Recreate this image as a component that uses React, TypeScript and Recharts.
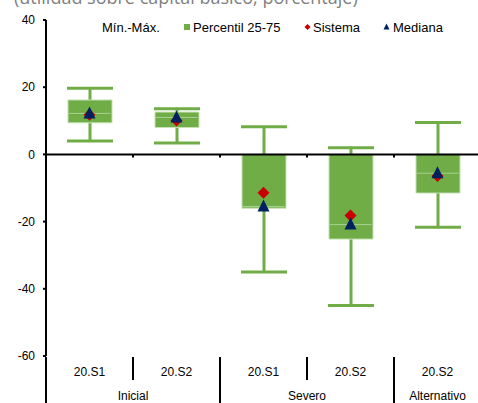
import React from "react";
import { Bar, ComposedChart, Line, ReferenceLine, XAxis, YAxis } from "recharts";

// Categorías del eje X y escenarios que las agrupan
const categories = ["20.S1", "20.S2", "20.S1", "20.S2", "20.S2"];
const scenarios = ["Inicial", "Inicial", "Severo", "Severo", "Alternativo"];

// Valores (porcentaje)
const minValues = [3.7, 3.1, -35.3, -45.3, -22.0];
const maxValues = [20.0, 13.9, 8.5, 2.3, 9.8];
const p25Values = [9.4, 8.0, -16.0, -25.2, -11.5];
const p75Values = [16.2, 12.6, 0, 0, 0];
const medianValues = [12.2, 11.0, -15.5, -20.9, -5.6];
const systemValues = [11.8, 10.1, -11.4, -18.2, -6.4];

const yTicks = [-60, -40, -20, 0, 20, 40];
const legendLabels = ["Mín.-Máx.", "Percentil 25-75", "Sistema", "Mediana"];
const title = "(utilidad sobre capital básico, porcentaje)";

const GREEN = "#70AD47";
const RED = "#C80000";
const NAVY = "#002060";
const FONT = "'Liberation Sans', Arial, sans-serif";

const data = categories.map((c, i) => ({
  id: i,
  label: c,
  scenario: scenarios[i],
  range: [minValues[i], maxValues[i]],
  box: [p25Values[i], p75Values[i]],
  mediana: medianValues[i],
  sistema: systemValues[i],
}));

const Whisker = (props: any) => {
  const { x, y, width, height } = props;
  const cx = x + width / 2;
  return (
    <g stroke={GREEN} strokeWidth={3}>
      <line x1={cx} x2={cx} y1={y} y2={y + height} />
      <line x1={x} x2={x + width} y1={y + 1} y2={y + 1} />
      <line x1={x} x2={x + width} y1={y + height - 1} y2={y + height - 1} />
    </g>
  );
};

const MedianLine = (props: any) => {
  const { cx, cy, index } = props;
  if (cx == null || cy == null) return <g key={index} />;
  return <line key={index} x1={cx - 21} x2={cx + 21} y1={cy} y2={cy} stroke="#A9D18E" strokeWidth={1} />;
};

const Diamond = (props: any) => {
  const { cx, cy, index } = props;
  if (cx == null || cy == null) return <g key={index} />;
  const r = 6;
  return (
    <path key={index} d={`M${cx},${cy - r}L${cx + r},${cy}L${cx},${cy + r}L${cx - r},${cy}Z`} fill={RED} />
  );
};

const Triangle = (props: any) => {
  const { cx, cy, index } = props;
  if (cx == null || cy == null) return <g key={index} />;
  return (
    <path key={index} d={`M${cx},${cy - 7}L${cx + 6},${cy + 5}L${cx - 6},${cy + 5}Z`} fill={NAVY} />
  );
};

const CategoryTick = (props: any) => {
  const { x, y, payload } = props;
  const i = payload.index;
  const off = payload.offset ?? 43.5;
  const bx = x - off;
  const groupStart = i === 0 || scenarios[i] !== scenarios[i - 1];
  let n = 0;
  if (groupStart) {
    while (i + n < scenarios.length && scenarios[i + n] === scenarios[i]) n++;
  }
  return (
    <g>
      <line x1={bx} x2={bx} y1={y + 1} y2={groupStart ? y + 50 : y + 24} stroke="#000" strokeWidth={2} />
      <text x={x} y={y + 20} textAnchor="middle" fontSize={12} fontFamily={FONT} fill="#000">
        {categories[i]}
      </text>
      {groupStart && (
        <text x={bx + n * off} y={y + 44} textAnchor="middle" fontSize={12} fontFamily={FONT} fill="#000">
          {scenarios[i]}
        </text>
      )}
    </g>
  );
};

const ZeroLine = (props: any) => {
  const { x1, x2, y1 } = props;
  const step = (x2 - x1) / categories.length;
  return (
    <g stroke="#000" strokeWidth={2}>
      <line x1={x1} x2={x2} y1={y1} y2={y1} />
      {categories.slice(1).map((_, k) => (
        <line key={k} x1={x1 + step * (k + 1)} x2={x1 + step * (k + 1)} y1={y1} y2={y1 + 3} />
      ))}
    </g>
  );
};

export default function App() {
  return (
    <div style={{ position: "absolute", left: 0, top: 0, width: 478, height: 403, overflow: "hidden", background: "#fff" }}>
      <ComposedChart width={482} height={403} data={data} margin={{ top: 20, right: 1, bottom: 0, left: 0 }}>
        <XAxis
          xAxisId="box"
          dataKey="id"
          type="category"
          height={47}
          axisLine={false}
          tickLine={false}
          tickSize={0}
          tickMargin={0}
          interval={0}
          tick={<CategoryTick />}
        />
        <XAxis xAxisId="whisk" dataKey="id" type="category" hide />
        <YAxis
          width={46}
          domain={[-60, 40]}
          ticks={yTicks}
          interval={0}
          axisLine={{ stroke: "#000", strokeWidth: 2 }}
          tickLine={{ stroke: "#000", strokeWidth: 2 }}
          tickSize={3}
          tickMargin={8}
          tick={{ fontSize: 12, fontFamily: FONT, fill: "#000" }}
        />
        <Bar xAxisId="whisk" dataKey="range" barSize={46} shape={<Whisker />} isAnimationActive={false} />
        <Bar xAxisId="box" dataKey="box" barSize={44} fill={GREEN} stroke="#C5E0B4" strokeWidth={1} isAnimationActive={false} />
        <ReferenceLine xAxisId="box" y={0} shape={<ZeroLine />} />
        <Line xAxisId="box" dataKey="mediana" stroke="none" dot={MedianLine} activeDot={false} isAnimationActive={false} />
        <Line xAxisId="box" dataKey="sistema" stroke="none" dot={Diamond} activeDot={false} isAnimationActive={false} />
        <Line xAxisId="box" dataKey="mediana" stroke="none" dot={Triangle} activeDot={false} isAnimationActive={false} />
      </ComposedChart>
      <svg width={478} height={403} style={{ position: "absolute", left: 0, top: 0, pointerEvents: "none" }}>
        <text x={14} y={4} fontSize={18} fontFamily="'Open Sans', sans-serif" fill="#7F7F7F">
          {title}
        </text>
        <g fontSize={13} fontFamily={FONT} fill="#000">
          <text x={102} y={31.5}>{legendLabels[0]}</text>
          <rect x={184} y={24} width={6} height={6} fill={GREEN} />
          <text x={193} y={31.5}>{legendLabels[1]}</text>
          <path d="M307.5,24L310.5,27L307.5,30L304.5,27Z" fill={RED} />
          <text x={313} y={31.5}>{legendLabels[2]}</text>
          <path d="M386.5,23.5L389.5,29.5L383.5,29.5Z" fill={NAVY} />
          <text x={393} y={31.5}>{legendLabels[3]}</text>
        </g>
      </svg>
    </div>
  );
}
